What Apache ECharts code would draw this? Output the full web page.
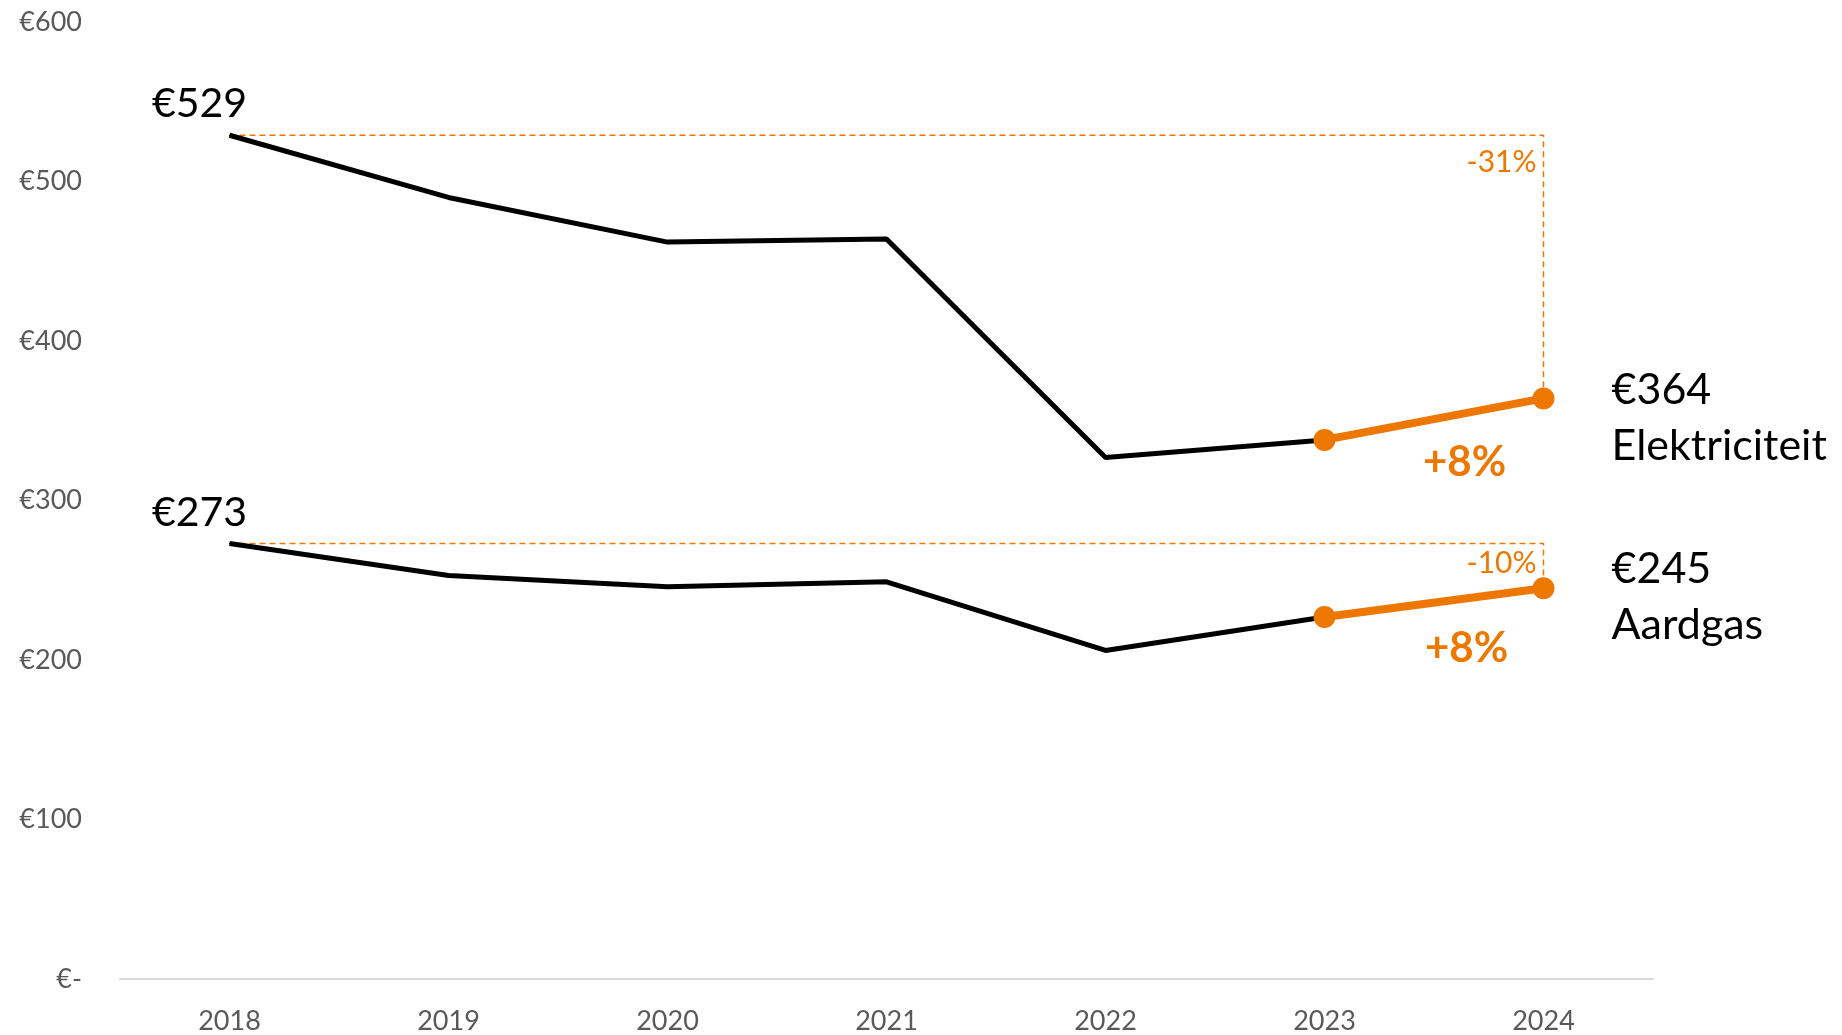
<!DOCTYPE html>
<html>
<head>
<meta charset="utf-8">
<title>Elektriciteit en aardgas</title>
<script src="https://cdn.jsdelivr.net/npm/echarts@6/dist/echarts.min.js"></script>
<style>
    html, body { margin: 0; padding: 0; background: #fff; }
    #chart1 { width: 1842px; height: 1035px; }
</style>
</head>
<body>
<div id="chart1"></div>
<script>
// 数据
var years = ['2018', '2019', '2020', '2021', '2022', '2023', '2024'];
var elektriciteit = [529, 490, 462, 464, 327, 338, 364];
var aardgas = [273, 253, 246, 249, 206, 227, 245];
var yTicks = [0, 100, 200, 300, 400, 500, 600];

var orange = '#EE7700';
var grey = '#595959';
var font = 'Lato';

// 最后两年 (橙色部分)
function lastTwo(arr) {
    var out = [];
    for (var i = 0; i < arr.length; i++) {
        out.push(i >= arr.length - 2 ? arr[i] : null);
    }
    return out;
}

function startLabel(arr) {
    var out = arr.slice();
    out[0] = {
        value: arr[0],
        label: {
            show: true, position: 'top', distance: 10, offset: [-30, 0],
            formatter: '€' + arr[0], color: '#000', fontSize: 41, fontFamily: font
        }
    };
    return out;
}

function orangeData(arr, name, endOffset, pctOffset) {
    var out = lastTwo(arr);
    var n = arr.length;
    var pct = Math.round((arr[n - 1] / arr[n - 2] - 1) * 100);
    out[n - 2] = {
        value: arr[n - 2],
        label: {
            show: true, position: 'inside', offset: pctOffset,
            formatter: '+' + pct + '%', color: orange, fontSize: 42,
            fontWeight: 'bold', fontFamily: font
        }
    };
    out[n - 1] = {
        value: arr[n - 1],
        label: {
            show: true, position: 'right', distance: 57, offset: endOffset,
            formatter: '€' + arr[n - 1] + '\n' + name, color: '#000',
            fontSize: 43, lineHeight: 56, fontFamily: font
        }
    };
    return out;
}

function dashData(arr, dist) {
    var n = arr.length;
    var pct = Math.round((arr[n - 1] / arr[0] - 1) * 100);
    return [
        [years[0], arr[0]],
        {
            value: [years[n - 1], arr[0]],
            label: {
                show: true, position: 'bottom', distance: dist, align: 'right', offset: [-7, 0],
                formatter: pct + '%', color: orange, fontSize: 30, fontFamily: font
            }
        },
        [years[n - 1], arr[n - 1]]
    ];
}

var myChart1 = echarts.init(document.getElementById('chart1'));

var option1 = {
    animation: false,
    textStyle: { fontFamily: font },
    grid: { left: 120, right: 189, top: 22, bottom: 56 },
    xAxis: {
        type: 'category',
        data: years,
        boundaryGap: true,
        axisLine: { lineStyle: { color: '#D9D9D9', width: 2 } },
        axisTick: { show: false },
        axisLabel: { color: grey, fontSize: 27, margin: 29, fontFamily: font }
    },
    yAxis: {
        type: 'value',
        min: yTicks[0],
        max: yTicks[yTicks.length - 1],
        interval: 100,
        axisLine: { show: false },
        axisTick: { show: false },
        splitLine: { show: false },
        axisLabel: {
            color: grey, fontSize: 27, margin: 38, fontFamily: font,
            formatter: function (v) { return v === 0 ? '€-' : '€' + v; }
        }
    },
    series: [
        {
            name: 'Elektriciteit',
            type: 'line',
            data: startLabel(elektriciteit),
            symbol: 'circle', symbolSize: 1, showSymbol: true,
            itemStyle: { color: '#000' },
            lineStyle: { color: '#000', width: 5 },
            z: 2
        },
        {
            name: 'Aardgas',
            type: 'line',
            data: startLabel(aardgas),
            symbol: 'circle', symbolSize: 1, showSymbol: true,
            itemStyle: { color: '#000' },
            lineStyle: { color: '#000', width: 5 },
            z: 2
        },
        {
            name: 'Elektriciteit dash',
            type: 'line',
            data: dashData(elektriciteit, 12),
            symbol: 'circle', symbolSize: 1, showSymbol: true,
            itemStyle: { color: orange },
            lineStyle: { color: orange, width: 1.5, type: [6, 4] },
            z: 1
        },
        {
            name: 'Aardgas dash',
            type: 'line',
            data: dashData(aardgas, 4),
            symbol: 'circle', symbolSize: 1, showSymbol: true,
            itemStyle: { color: orange },
            lineStyle: { color: orange, width: 1.5, type: [6, 4] },
            z: 1
        },
        {
            name: 'Elektriciteit 2023-2024',
            type: 'line',
            data: orangeData(elektriciteit, 'Elektriciteit', [0, 20], [140, 23]),
            symbol: 'circle', symbolSize: 22,
            itemStyle: { color: orange },
            lineStyle: { color: orange, width: 8 },
            z: 3
        },
        {
            name: 'Aardgas 2023-2024',
            type: 'line',
            data: orangeData(aardgas, 'Aardgas', [0, 9], [142, 32]),
            symbol: 'circle', symbolSize: 22,
            itemStyle: { color: orange },
            lineStyle: { color: orange, width: 8 },
            z: 3
        }
    ]
};

myChart1.setOption(option1);
</script>
</body>
</html>
